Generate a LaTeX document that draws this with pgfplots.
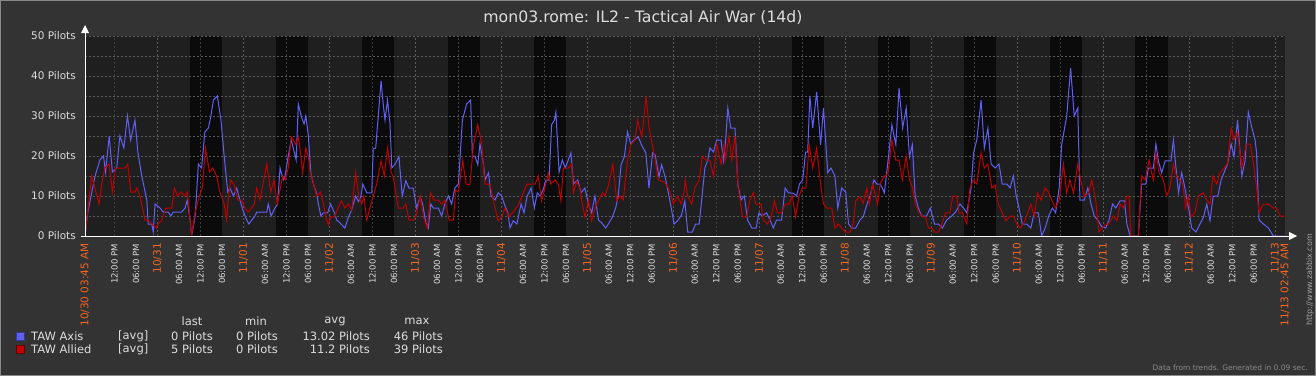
\documentclass[border=0pt]{standalone}
\usepackage{pgfplots}
\pgfplotsset{compat=1.18}
\usepackage{fontspec}
\setmainfont{DejaVu Sans}
\definecolor{zbg}{HTML}{333333}
\definecolor{plotbg}{HTML}{1F1F1F}
\definecolor{band}{HTML}{0B0B0B}
\definecolor{gridc}{HTML}{5A5A5A}
\definecolor{gridn}{HTML}{404040}
\definecolor{axisblue}{HTML}{6060F8}
\definecolor{alliedred}{HTML}{C00000}
\definecolor{zorange}{HTML}{F26522}
\definecolor{ztext}{HTML}{DDDDDD}
\definecolor{zgray}{HTML}{8A8A8A}
\begin{document}
\begin{tikzpicture}[x=1pt,y=1pt]
\path[use as bounding box] (0,0) rectangle (1316,376);
\fill[zbg] (0,0) rectangle (1316,376);
\draw[color=zgray, line width=1pt] (0.5,0.5) rectangle (1315.5,375.5);
\node[text=ztext, font=\fontsize{15.7}{17}\selectfont] at (643,358) {mon03.rome: IL2 - Tactical Air War (14d)};
\begin{axis}[at={(85pt,140pt)}, anchor=south west, width=1200pt, height=200pt, scale only axis,
 xmin=3.75, xmax=338.75, ymin=0, ymax=50,
 axis line style={draw=none}, tick style={draw=none}, major tick length=0pt,
 axis background/.style={fill=plotbg},
 ytick={0,10,...,50},
 yticklabels={0 Pilots,10 Pilots,20 Pilots,30 Pilots,40 Pilots,50 Pilots},
 yticklabel style={text=ztext, font=\fontsize{10.5}{12}\selectfont, anchor=east, inner sep=0pt},
 yticklabel shift=9pt,
 xtick={12,18,30,36,42,54,60,66,78,84,90,102,108,114,126,132,138,150,156,162,174,180,186,198,204,210,222,228,234,246,252,258,270,276,282,294,300,306,318,324,330},
 xticklabels={12:00 PM,06:00 PM,06:00 AM,12:00 PM,06:00 PM,06:00 AM,12:00 PM,06:00 PM,06:00 AM,12:00 PM,06:00 PM,06:00 AM,12:00 PM,06:00 PM,06:00 AM,12:00 PM,06:00 PM,06:00 AM,12:00 PM,06:00 PM,06:00 AM,12:00 PM,06:00 PM,06:00 AM,12:00 PM,06:00 PM,06:00 AM,12:00 PM,06:00 PM,06:00 AM,12:00 PM,06:00 PM,06:00 AM,12:00 PM,06:00 PM,06:00 AM,12:00 PM,06:00 PM,06:00 AM,12:00 PM,06:00 PM},
 xticklabel style={text=ztext, font=\fontsize{8.5}{10}\selectfont, rotate=90, anchor=east, inner sep=0pt},
 xticklabel shift=8pt,
 extra x ticks={3.75,24,48,72,96,120,144,168,192,216,240,264,288,312,336,338.75},
 extra x tick labels={10/30 03:45 AM,10/31,11/01,11/02,11/03,11/04,11/05,11/06,11/07,11/08,11/09,11/10,11/11,11/12,11/13,11/13 02:45 AM},
 extra x tick style={xticklabel style={text=zorange, font=\fontsize{10.5}{12}\selectfont}, xticklabel shift=7pt},
]
% working hours (09:00-18:00, Mon-Fri)
\fill[band] (axis cs:33,0) rectangle (axis cs:42,50);
\fill[band] (axis cs:57,0) rectangle (axis cs:66,50);
\fill[band] (axis cs:81,0) rectangle (axis cs:90,50);
\fill[band] (axis cs:105,0) rectangle (axis cs:114,50);
\fill[band] (axis cs:129,0) rectangle (axis cs:138,50);
\fill[band] (axis cs:201,0) rectangle (axis cs:210,50);
\fill[band] (axis cs:225,0) rectangle (axis cs:234,50);
\fill[band] (axis cs:249,0) rectangle (axis cs:258,50);
\fill[band] (axis cs:273,0) rectangle (axis cs:282,50);
\fill[band] (axis cs:297,0) rectangle (axis cs:306,50);
% grid
\pgfplotsinvokeforeach{5,10,...,50}{\draw[gridc, line width=1pt, dash pattern=on 2pt off 2pt] (axis cs:3.75,#1) -- (axis cs:338.75,#1);}
\pgfplotsinvokeforeach{24,48,...,336}{\draw[gridc, line width=1pt, dash pattern=on 2pt off 2pt] (axis cs:#1,0) -- (axis cs:#1,50);}
\pgfplotsinvokeforeach{12,36,...,324}{\draw[gridn, line width=1pt, dash pattern=on 2pt off 2pt] (axis cs:#1,0) -- (axis cs:#1,50);}
% TAW Axis
\addplot[axisblue, line width=1pt] coordinates {
(3.75,0)(4.5,5.8)(5.6,10.7)(6.5,14.8)(7.9,19)(8.9,20)(9.5,16)(10.5,25)(11.4,16)(12.6,17)(13.5,25)(14.6,22)(15.6,30)(16.5,24)(17.7,29)(18.5,21)(19.6,15)(20.3,12)(21.0,9)(21.4,3)(22.4,3)(22.8,1)(23.3,8)(24.7,7)(25.6,6)(27.0,6)(27.7,5)(28.4,6)(29.8,6)(30.7,6)(31.7,7)(32.3,9)(33.1,4)(33.5,0)(34.5,5)(35.4,18)(36.3,17)(37.2,26)(38.2,27)(38.9,30)(39.6,34)(40.7,35)(41.7,29)(42.6,20)(43.6,11)(44.2,12)(45.2,10)(46.1,12)(47.0,9)(48.0,6)(48.9,4)(49.5,3)(50.3,4)(51.2,5)(51.7,6)(53.1,6)(54.5,6)(54.9,8)(55.7,5)(56.8,7)(57.5,8)(58.2,17)(59.1,14)
(59.6,15)(60.3,19)(61.3,24)(61.9,22)(62.7,19)(63.3,33)(64.2,29.7)(64.9,28)(65.4,30)(66.1,25)(66.8,15.7)(67.5,13)(68.4,10.7)(68.9,8)(69.6,5)(70.3,5.8)(71.5,5.8)(72.3,8)(73.4,5.8)(74.0,4)(74.9,3.3)(76.3,2)(77.3,4.8)(78.2,6.5)(79.3,10)(80.1,8.6)(80.8,10)(81.3,13)(82.4,10.8)(83.8,10.8)(84.2,21.8)(84.9,22)(85.6,29.8)(86.4,38.8)(87.0,33)(87.5,29)(88.2,34)(88.9,28)(89.4,17)(90.3,18)(91.4,19.8)(92.3,10)(93.3,13.8)(94.2,12)(95.4,12)(96.3,7)(97.3,9.8)(98.0,8)(98.9,3.3)(99.6,2)(100.3,8)(101.0,7)(102.4,7)(103.3,5)(104.2,8)(105.2,10)(106.1,8)(107.0,12)(108.0,13)(109.1,29)(110.3,33)(111.4,34)(111.9,20)(112.6,20)(113.4,17.8)(114.0,23)(115.0,18)
(115.4,14)(116.4,15.8)(117.1,10)(118.2,9)(119.1,10.8)(120.1,10)(120.8,8)(121.8,5.8)(122.4,2)(123.3,3.8)(124.3,3)(125.5,8)(126.3,5.8)(127.2,10)(128.3,12)(129.2,7)(130.0,10.8)(130.8,10)(131.7,11.7)(132.4,14)(133.3,14)(134.0,27.8)(134.8,29)(135.2,31)(136.1,16)(137.0,19)(137.8,17)(138.5,18.6)(139.4,20.8)(140.1,13)(141.3,14)(142.2,10.8)(143.3,12)(144.3,8)(145.2,5.8)(146.1,10)(147.1,4)(148.0,3.3)(149.1,2)(150.0,3.2)(151.0,4.8)(151.9,7)(152.6,10)(153.4,17.8)(154.3,19.8)(155.2,26)(156.1,23)(157.0,24)(158.2,24.8)(159.1,22.8)(160.3,20.8)(161.2,12)(162.2,20.8)(162.9,20.3)(164.0,14.8)(164.7,17.8)(165.7,14.8)(166.6,10.8)(167.4,7)(168.2,3)(169.2,3.8)(170.3,5.3)(171.2,8.8)
(172.0,1)(173.3,1)(174.2,3)(175.2,3)(176.1,10.8)(176.8,17)(177.6,19)(178.2,22)(179.2,21)(180.1,24)(181.3,24)(182.0,18.8)(182.6,24)(183.2,32)(184.0,27)(185.2,27)(186.0,12.8)(186.9,9)(187.8,10)(188.7,4)(189.9,2)(191.1,2)(191.9,5.8)(192.8,5)(194.0,5.8)(195.0,4)(195.9,2)(196.8,4)(198.2,4)(199.2,12)(200.1,10.8)(201.5,10.7)(202.4,10)(203.2,13)(204.1,14)(204.9,21)(205.5,21)(206.1,35)(206.9,27)(208.0,36)(209.1,22.8)(209.9,32)(211.1,15.8)(212.0,17)(213.1,15)(213.9,7)(215.0,12)(216.1,11)(216.9,3)(217.8,2)(218.9,2)(220.1,4)(221.0,4.8)(222.0,7.8)(222.9,10)(224.0,14)(224.8,13)(225.7,13)(226.3,12)(226.9,10.8)
(227.8,17.8)(229.0,27.8)(230.1,22.8)(231.0,37)(232.0,27)(233.0,32)(233.9,19.8)(234.7,22.8)(235.5,10)(236.4,7)(237.3,5)(238.7,5)(239.7,7)(240.9,3)(242.0,3)(243.1,2)(244.3,4)(245.7,5)(246.8,6)(248.0,8)(249.0,7)(249.9,5.8)(251.1,12)(251.8,20.8)(252.7,24)(253.9,34)(254.8,22)(255.8,27)(256.7,18)(257.8,17)(258.9,18)(259.8,13)(261.1,13)(262.0,12)(262.9,15)(263.7,10)(264.3,7.8)(265.4,3)(266.6,3)(267.8,2)(268.7,5.8)(269.9,5.8)(270.8,0)(271.8,2)(272.7,4.8)(273.8,7)(274.7,5.8)(275.7,12)(276.4,22.8)(277.8,30)(278.9,42)(279.9,30)(280.9,32)(281.5,9)(282.7,9)
(283.7,12)(284.6,8)(285.5,5)(286.6,3.8)(287.6,2.3)(288.7,2)(289.6,4)(290.6,8)(291.5,7)(292.7,8.8)(293.9,8.8)(294.6,3)(295.5,0)(297.8,0)(298.7,13)(299.9,13)(300.6,17)(302.0,17)(302.7,23)(303.4,18.8)(304.3,15.8)(305.3,18.8)(306.9,18.8)(307.6,24)(308.2,18)(309.0,10.8)(309.9,15.8)(310.8,12)(312.0,6)(312.7,2)(313.9,1)(315.0,3)(316.0,4.8)(316.9,8)(317.8,3.8)(318.7,10)(320.0,10)(320.9,14)(321.8,16)(322.7,18)(323.7,23)(324.5,19.8)(325.5,29)(326.7,15)(327.6,18.8)(328.5,31)(329.5,27)(330.4,24)(330.8,20.8)(331.5,4)(332.7,3)(334.1,2)(335.5,0)(338.75,0)
};
% TAW Allied
\addplot[alliedred, line width=1pt] coordinates {
(3.75,0)(4.5,6)(5.6,15)(6.5,12)(7.7,8)(8.4,13)(9.3,17)(10.5,18)(11.4,11)(12.3,17)(14.9,17)(15.7,18)(16.5,11)(17.7,11)(18.2,12)(19.1,10)(20.5,4)(21.4,4)(22.4,3)(23.6,2)(24.2,3)(25.2,4)(26.3,7)(28.0,7)(28.7,12)(29.6,10)(30.5,11)(31.5,10)(32.3,11)(33.1,4)(33.5,0)(34.5,6)(35.7,10)(36.5,12)(37.4,22)(38.5,16)(39.4,17)(40.5,15)(41.4,11)(42.6,8)(43.3,4)(43.8,10)(44.4,14)(45.3,13)(46.4,9)(47.5,9)(48.4,7)(49.3,6)(50.3,7)(51.0,8)(51.7,12)(52.6,9)(54.5,18)(55.6,11)(56.5,14)(57.4,8)(58.7,14)(59.0,15)
(59.6,14)(60.5,17)(61.3,24.8)(61.9,24)(62.6,22.8)(63.3,24.8)(63.9,21)(64.5,15.8)(65.4,22)(66.1,19.8)(66.6,16)(67.3,14)(68.4,10)(69.5,11)(70.3,8)(71.0,4.8)(71.7,2.8)(72.3,4.8)(73.5,4.8)(74.5,7.3)(75.4,8.8)(76.3,7)(77.3,8)(78.2,6.5)(79.3,15.8)(80.2,9.8)(81.0,8)(81.6,10)(82.4,4)(83.3,7)(84.2,10)(85.2,13)(86.4,18.8)(87.3,15)(88.2,22)(89.2,16)(89.8,14.8)(91.2,7)(92.6,7)(93.3,8)(94.2,4)(95.4,4)(96.3,5.3)(97.3,10)(98.2,4.8)(99.3,2)(100.2,10.8)(101.2,9)(102.4,9)(103.3,8)(104.2,9)(105.4,4)(106.6,4)(107.2,11.5)(108.0,11)(109.2,19)(110.1,13)(111.2,12.8)(112.2,22.8)(113.4,27.8)(114.5,23)(115.0,17)
(115.4,13)(116.8,13)(117.7,9)(119.1,3.8)(120.1,4.8)(121.0,7)(122.1,4.8)(123.3,6)(124.7,7.8)(126.1,10.8)(127.1,13)(129.4,13)(130.3,15)(131.2,8.8)(132.2,12.3)(133.1,15.8)(133.8,13)(135.0,14)(135.9,12.8)(136.6,8.8)(137.3,17)(138.7,17)(139.6,18)(140.1,10.8)(141.0,13.6)(141.9,12)(142.4,8.8)(143.3,4.8)(144.3,9)(145.2,3.8)(146.1,7)(147.2,9)(148.2,10.8)(148.9,10)(150.0,13)(151.1,18)(152.2,8.8)(153.1,10)(154.0,9)(155.2,19)(156.1,22.8)(157.3,24)(158.0,29)(159.2,24.8)(160.4,35)(161.2,27)(161.9,24)(162.9,19)(163.8,14)(165.2,13.6)(166.1,12.8)(167.1,11)(168.0,8)(169.2,10)(170.1,8)(171.0,11)
(171.3,14)(172.0,10)(173.1,8)(174.0,12)(175.2,14)(176.1,20)(177.0,19)(178.2,19)(179.2,15)(180.1,23)(181.3,18)(182.2,23)(182.6,19)(183.5,25)(184.3,19)(185.2,25)(186.1,12)(187.3,4.8)(188.5,4.8)(189.4,9)(190.3,10.8)(191.0,8)(192.5,8)(193.1,4)(194.3,3)(195.3,4.8)(196.2,8.8)(197.1,5.8)(198.2,5.8)(199.2,8)(200.3,8)(201.2,10)(202.1,4.8)(203.1,10)(204.0,12)(205.0,12)(205.9,22.8)(206.9,17)(208.0,22)(209.1,13)(209.9,8)(210.8,7)(212.2,7)(213.1,2)(214.1,3)(215.0,2)(216.1,1)(217.3,1)(218.2,3)(218.9,8.8)(220.1,9.8)(221.0,8.2)(222.0,12)(222.7,8)(223.6,13)(225.0,8)(225.7,13)(226.9,15)
(227.1,14.8)(228.0,16)(229.0,24)(230.1,19)(231.0,19)(231.9,14)(233.0,20)(233.9,14)(234.7,12.3)(235.5,8)(236.6,5.8)(237.5,4.8)(238.4,4.8)(239.2,2)(240.1,2)(241.0,1)(242.0,1)(242.9,3)(244.0,5.8)(245.2,5.8)(246.0,10)(247.1,10)(247.7,5.8)(248.7,5.8)(249.9,3)(250.8,12)(251.7,14)(252.7,13)(253.9,20.8)(254.8,17)(255.8,18)(256.9,12)(257.8,12.8)(258.7,8)(259.8,5.8)(260.8,3.8)(262.0,5)(262.9,5)(263.9,3)(264.8,2)(265.7,3)(266.6,5)(267.8,8)(268.8,4.8)(269.6,10.8)(270.6,9)(271.8,12)(272.7,11)(273.6,9)(274.7,7)(275.7,9)(276.9,18)(277.8,10.8)(278.7,14)(279.7,10.8)(280.9,18)(282.0,12.8)(282.7,9.8)
(283.9,10.8)(284.8,14)(285.9,9)(286.8,1)(287.8,2)(288.7,3)(289.6,3)(290.8,5)(291.8,3.8)(292.7,8)(293.6,7)(294.6,10)(295.2,10)(295.7,0)(297.8,0)(298.7,15)(299.7,14)(300.8,19)(301.5,15.8)(302.0,14)(302.7,20.8)(303.6,15.8)(304.8,14)(305.7,10)(306.6,12)(307.6,18)(308.5,14.8)(309.4,14)(310.2,13)(311.0,7)(311.8,10)(312.5,4.8)(313.6,5.8)(314.6,10)(315.9,10.8)(316.9,9)(317.8,8)(318.6,15)(319.7,13)(320.6,15.8)(321.8,17)(322.7,18.2)(323.7,27)(324.5,24)(325.5,26)(326.7,17)(327.9,23)(329.0,23)(329.9,18.3)(330.8,12.3)(331.5,5.8)(332.7,8)(334.1,8)(335.5,7)(336.4,7)(337.4,5)(338.75,5)
};
\end{axis}
% axes with arrows
\draw[white, line width=1pt] (81,140) -- (1291,140);
\fill[white] (1297,140) -- (1289,144) -- (1289,136) -- cycle;
\draw[white, line width=1pt] (85,140) -- (85,345);
\fill[white] (85,351) -- (81,343) -- (89,343) -- cycle;
% legend
\begin{scope}[every node/.style={text=ztext, font=\fontsize{11.5}{13}\selectfont, inner sep=0pt}]
\node at (192,55) {last};
\node at (256,55) {min};
\node at (335,55) {avg};
\node at (417,55) {max};
\filldraw[fill=axisblue, draw=axisblue!60!black, line width=1pt] (16.5,35.5) rectangle (24.5,43.5);
\node[anchor=west] at (31,40) {TAW Axis};
\node[anchor=west] at (118,40) {[avg]};
\node[anchor=east] at (213,40) {0 Pilots};
\node[anchor=east] at (278,40) {0 Pilots};
\node[anchor=east] at (370,40) {13.02 Pilots};
\node[anchor=east] at (443,40) {46 Pilots};
\filldraw[fill=alliedred, draw=alliedred!55!black, line width=1pt] (16.5,22.5) rectangle (24.5,30.5);
\node[anchor=west] at (31,27) {TAW Allied};
\node[anchor=west] at (118,27) {[avg]};
\node[anchor=east] at (213,27) {5 Pilots};
\node[anchor=east] at (278,27) {0 Pilots};
\node[anchor=east] at (370,27) {11.2 Pilots};
\node[anchor=east] at (443,27) {39 Pilots};
\end{scope}
\node[text=zgray, font=\fontsize{7.5}{9}\selectfont, anchor=east, inner sep=0pt] at (1308,8) {Data from trends. Generated in 0.09 sec.};
\node[text=zgray!80, font=\fontsize{8}{9}\selectfont, rotate=90, inner sep=0pt] at (1310,96) {http://www.zabbix.com};
\end{tikzpicture}
\end{document}
